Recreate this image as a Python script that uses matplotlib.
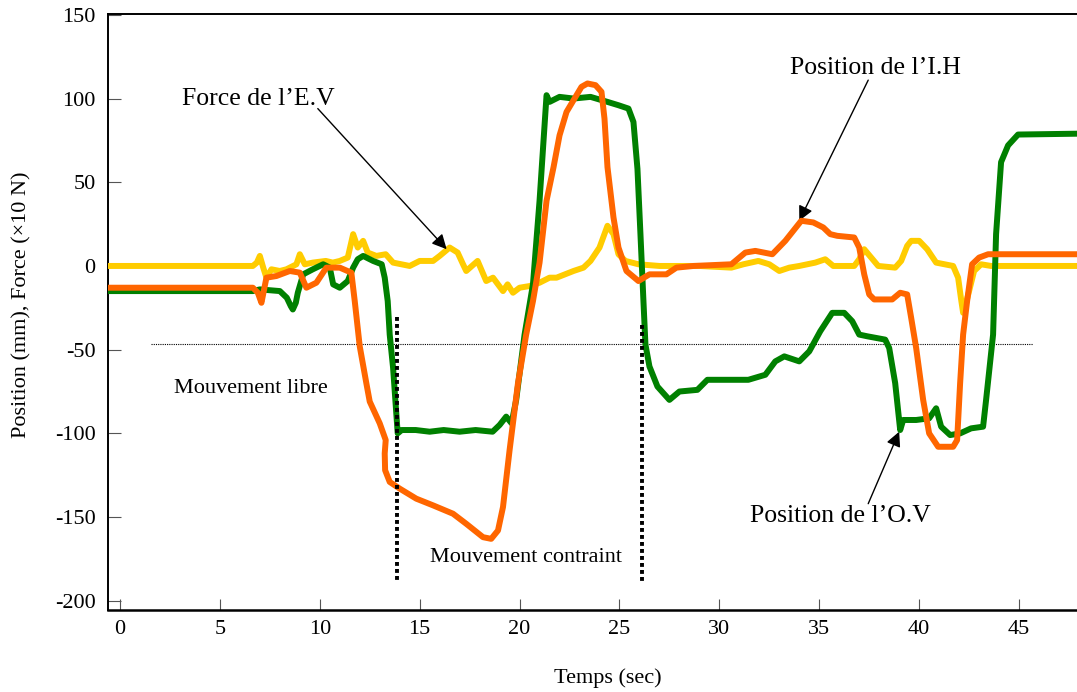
import matplotlib
matplotlib.use("Agg")
import matplotlib.pyplot as plt

plt.rcParams['font.family'] = ['Liberation Serif', 'DejaVu Serif']
plt.rcParams['axes.unicode_minus'] = False

# Force de l'E.V (x10 N)
force_t = [-0.6, 6.65, 6.85, 7.0, 7.17, 7.33, 7.58, 8.0, 8.33, 8.83, 9.0, 9.25, 9.65, 10.3, 10.65,
           11.0, 11.4, 11.67, 11.9, 12.17, 12.4, 12.83, 13.3, 13.67, 14.5, 15.0, 15.67, 16.0, 16.5,
           16.9, 17.17, 17.33, 17.9, 18.33, 18.67, 19.17, 19.4, 19.67, 20.0, 20.5, 21.0, 21.5, 21.85,
           22.7, 23.2, 23.55, 24.0, 24.4, 24.7, 24.95, 25.3, 25.95, 27.0, 28.0, 29.0, 30.6, 31.2,
           31.95, 32.5, 33.0, 33.5, 34.0, 34.8, 35.3, 35.7, 36.75, 37.0, 37.25, 37.6, 37.95, 38.8,
           39.1, 39.4, 39.6, 40.0, 40.4, 40.85, 41.7, 41.95, 42.1, 42.2, 42.35, 42.5, 42.75, 43.1,
           43.6, 47.9]
force_v = [0, 0, 2, 6, -1, -7, -2, -3, -2, 1, 7, 1, 2, 3, 2,
           3, 5, 19, 11, 15, 8, 6, 7, 2, 0, 3, 3, 6, 11,
           8, 1, -3, 3, -9, -7, -15, -11, -16, -13, -12, -10, -7, -7,
           -3, -1, 3, 11, 24, 19, 7, 3, 1, 0, 0, 0, -1, 1,
           3, 1, -3, -1, 0, 2, 4, 0, 0, 4, 10, 5, 0, -1,
           3, 12, 15, 15, 10, 2, 0, -7, -20, -28, -22, -15, -3, 1,
           0, 0]

# Position de l'O.V (mm)
ov_t = [-0.6, 6.65, 7.0, 8.0, 8.35, 8.55, 8.65, 8.8, 8.9, 9.17, 9.65, 10.17, 10.5, 10.67, 11.0,
        11.4, 11.67, 11.9, 12.17, 12.67, 13.1, 13.25, 13.4, 13.5, 13.67, 13.9, 14.1, 14.8, 15.5,
        16.2, 17.0, 17.8, 18.65, 19.0, 19.33, 19.6, 19.83, 20.25, 20.67, 21.0, 21.35, 21.5, 22.0,
        22.7, 23.55, 24.4, 24.95, 25.45, 25.7, 25.9, 26.05, 26.2, 26.3, 26.5, 26.9, 27.5, 28.0,
        28.9, 29.4, 31.45, 32.3, 32.8, 33.25, 34.0, 34.5, 35.05, 35.65, 36.25, 36.65, 37.0, 37.4,
        38.3, 38.5, 38.8, 39.05, 39.2, 39.85, 40.5, 40.85, 41.1, 41.55, 42.05, 42.6, 43.2, 43.35,
        43.7, 43.85, 44.1, 44.45, 44.95, 47.9]
ov_v = [-15, -15, -14, -15, -19, -24, -26, -22, -16, -5, -2, 1, -1, -11, -13,
        -9, -1, 4, 6, 3, 1, -7, -21, -41, -61, -100, -98, -98, -99,
        -98, -99, -98, -99, -95, -90, -94, -80, -41, -11, 39, 102, 98, 101,
        100, 101, 98, 96, 94, 86, 58, 19, -21, -47, -60, -72, -80, -75,
        -74, -68, -68, -65, -57, -54, -57, -51, -39, -28, -28, -33, -41, -42,
        -44, -49, -70, -98, -92, -92, -91, -85, -96, -101, -100, -97, -96, -80,
        -41, 19, 62, 72, 78.5, 79]

# Position de l'I.H (mm)
ih_t = [-0.6, 6.65, 6.9, 7.08, 7.33, 7.83, 8.5, 9.0, 9.33, 9.83, 10.33, 11.0, 11.58, 11.75, 12.0,
        12.33, 12.5, 13.0, 13.3, 13.25, 13.27, 13.5, 14.0, 14.83, 15.67, 16.67, 17.33, 18.17, 18.58,
        18.92, 19.17, 19.5, 19.92, 20.33, 20.67, 21.0, 21.35, 21.7, 22.0, 22.35, 22.7, 23.1, 23.4,
        23.8, 24.1, 24.25, 24.4, 24.7, 24.95, 25.35, 25.95, 26.5, 27.35, 27.85, 28.7, 30.6, 31.3,
        31.8, 32.65, 33.3, 34.1, 34.7, 35.2, 35.55, 35.9, 36.75, 37.0, 37.25, 37.5, 37.75, 38.65,
        39.05, 39.4, 39.6, 39.85, 40.2, 40.5, 40.95, 41.7, 41.9, 42.05, 42.2, 42.4, 42.65, 43.0,
        43.45, 47.9]
ih_v = [-13, -13, -16, -22, -7, -6, -3, -4, -13, -10, -1, -1, -4, -21, -48,
        -70, -81, -94, -104, -112, -122, -129, -133, -139, -143, -148, -154, -162, -163,
        -158, -144, -110, -70, -41, -21, 2, 39, 59, 78, 92, 99, 107, 109,
        108, 104, 88, 59, 29, 11, -3, -9, -5, -5, -1, 0, 1, 8,
        9, 7, 15, 27, 26, 23, 19, 18, 17, 11, -5, -17, -20, -20,
        -16, -17, -31, -49, -80, -100, -108, -108, -104, -70, -41, -21, 1, 5,
        7, 7]

x_ticks = list(range(0, 50, 5))
y_ticks = list(range(-200, 151, 50))

fig = plt.figure(figsize=(10.77, 6.92), dpi=100)
ax = fig.add_axes([108 / 1077, 1 - 610 / 692, 1 - 108 / 1077, 596 / 692])

lw = 4.3
ax.plot(force_t, force_v, color='#ffcc00', lw=lw, solid_joinstyle='round', solid_capstyle='round', zorder=3)
ax.plot(ov_t, ov_v, color='#008000', lw=lw, solid_joinstyle='round', solid_capstyle='round', zorder=4)
ax.plot(ih_t, ih_v, color='#ff6600', lw=lw, solid_joinstyle='round', solid_capstyle='round', zorder=5)

# free / constrained limits
ax.plot([1.55, 45.7], [-46.5, -46.5], color='black', lw=0.8, ls=(0, (1, 1)), zorder=2)
ax.plot([13.85, 13.85], [-30.5, -189], color='black', lw=2.8, ls=(0, (1, 0.8)), zorder=6)
ax.plot([26.15, 26.15], [-35.5, -190], color='black', lw=2.8, ls=(0, (1, 0.8)), zorder=6)

ax.set_xlim(-0.6, 47.9)
ax.set_ylim(-205.5, 150.5)
ax.set_xticks(x_ticks)
ax.set_yticks(y_ticks)
ax.tick_params(axis='both', direction='in', labelsize=16, color='#555555')
ax.tick_params(axis='y', length=9, pad=9)
ax.tick_params(axis='x', length=8, pad=7)
ax.spines['right'].set_visible(False)
ax.spines['left'].set_linewidth(1.4)
ax.spines['bottom'].set_linewidth(1.8)
ax.spines['top'].set_linewidth(1.4)

# annotations
arrow = dict(arrowstyle='-|>', color='black', lw=1.0, mutation_scale=22, shrinkA=0, shrinkB=0)
ax.annotate('', xy=(16.35, 10), xytext=(9.9, 94), arrowprops=arrow)
ax.annotate('', xy=(34.0, 27), xytext=(37.45, 111), arrowprops=arrow)
ax.annotate('', xy=(39.0, -99), xytext=(37.45, -142), arrowprops=arrow)

ax.text(3.1, 100, 'Force de l\u2019E.V', fontsize=18.5, va='center', ha='left')
ax.text(33.55, 118, 'Position de l\u2019I.H', fontsize=18.5, va='center', ha='left')
ax.text(31.55, -149.5, 'Position de l\u2019O.V', fontsize=18.5, va='center', ha='left')
ax.text(2.7, -73, 'Mouvement libre', fontsize=16, va='center', ha='left')
ax.text(15.5, -174, 'Mouvement contraint', fontsize=16, va='center', ha='left')

fig.text(608 / 1077, 1 - 678 / 692, 'Temps (sec)', fontsize=16, ha='center', va='center')
fig.text(22 / 1077, 1 - 305 / 692, 'Position (mm), Force (\u00d710 N)', fontsize=16,
         ha='center', va='center', rotation=90)

fig.savefig('out.png', dpi=100)
